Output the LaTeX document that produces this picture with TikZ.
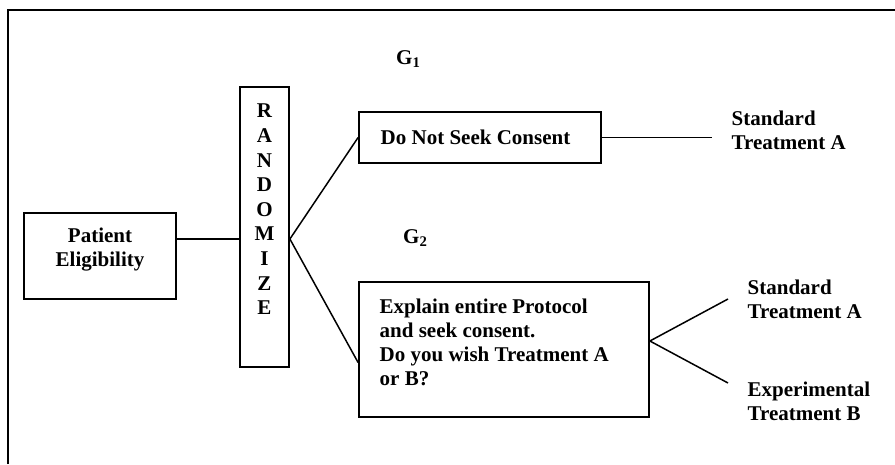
\documentclass[tikz,border=0pt]{standalone}
\usepackage{fontspec}
\setmainfont{Liberation Serif}
\usetikzlibrary{calc}
\begin{document}
\begin{tikzpicture}[x=1pt,y=1pt,
  every node/.style={font=\fontsize{21}{24}\selectfont\bfseries, inner sep=0pt},
  box/.style={draw, line width=1.8pt, minimum width=#1},
  conn/.style={line width=1.5pt},
  lbl/.style={anchor=west, align=left}
]
\useasboundingbox (0,0) rectangle (895,-464);
% outer frame (top and left edges)
\draw[line width=2.5pt] (8,-464) -- (8,-10) -- (895,-10);

% boxes
\node[box=152, minimum height=86] (patient) at (100,-256) {};
\node[box=49, minimum height=280] (rand) at (264.5,-227) {};
\node[box=242, minimum height=51] (dns) at (480,-137.5) {};
\node[box=290, minimum height=135] (expl) at (504,-349.5) {};

% box texts
\node[align=center] (patienttext) at (100,-250) {Patient\\Eligibility};
\node[align=center, font=\fontsize{21}{24.6}\selectfont\bfseries] (randtext) at (264.5,-209.5)
  {R\\A\\N\\D\\O\\M\\I\\Z\\E};
\node[lbl] (dnstext) at (380.5,-137) {Do Not Seek Consent};
\node[lbl] (expltext) at (379.5,-342) {Explain entire Protocol\\and seek consent.\\Do you wish Treatment A\\or B?};

% group labels
\node[lbl] (g1) at (396,-59) {G\textsubscript{1}};
\node[lbl] (g2) at (403,-238) {G\textsubscript{2}};

% outcome labels
\node[lbl] (stdA1) at (731.5,-130) {Standard\\Treatment A};
\node[lbl] (stdA2) at (747.5,-299.5) {Standard\\Treatment A};
\node[lbl] (expB) at (747.5,-401.5) {Experimental\\Treatment B};

% connectors
\coordinate (j) at ([yshift=-12]rand.east);
\coordinate (dnsend) at (712,-137.5);
\coordinate (upend) at (728,-299);
\coordinate (downend) at (728,-383);
\coordinate (fork) at ([yshift=8.5]expl.east);

\draw[conn] (j -| patient.east) -- (j -| rand.west);
\draw[conn] (j) -- (dns.west);
\draw[conn] (j) -- ([yshift=-13]expl.west);
\draw[conn] (dns.east) -- (dnsend);
\draw[conn] (upend) -- (fork) -- (downend);
\end{tikzpicture}
\end{document}
